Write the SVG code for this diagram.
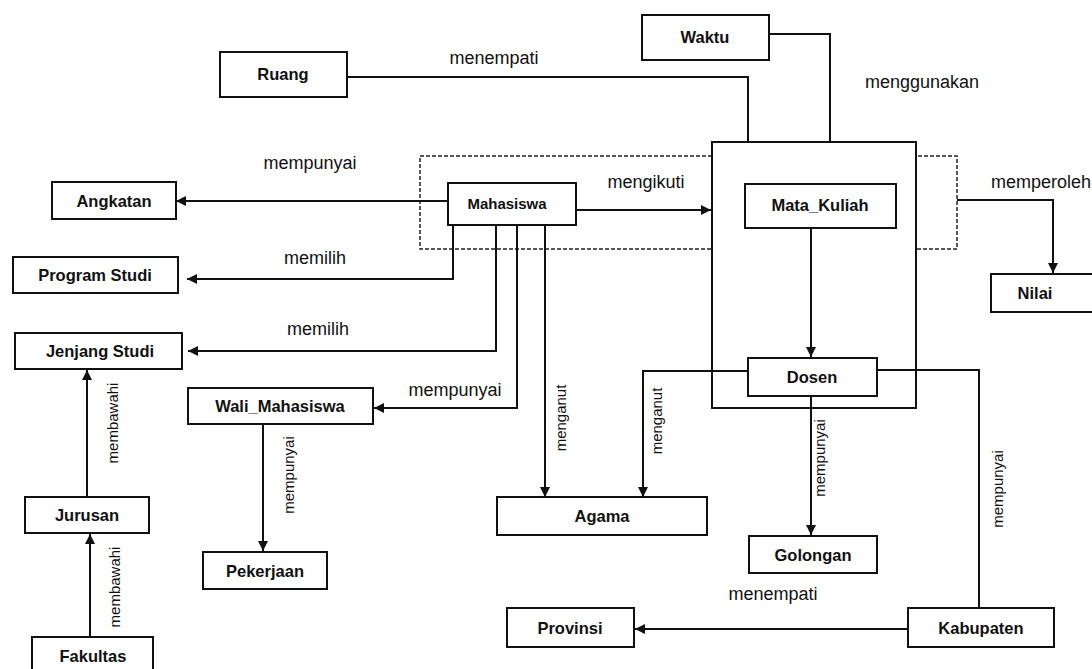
<svg xmlns="http://www.w3.org/2000/svg" width="1092" height="669" viewBox="0 0 1092 669">
<defs>
<marker id="arr" viewBox="0 0 10 10" refX="10" refY="5" markerWidth="10" markerHeight="10" markerUnits="userSpaceOnUse" orient="auto">
<path d="M0,0 L10,5 L0,10 z" fill="#111"/>
</marker>
<style>
.box{fill:#fff;stroke:#111;stroke-width:2}
.nt{font-family:"Liberation Sans",Arial,sans-serif;font-size:16.5px;font-weight:bold;fill:#111;text-anchor:middle;dominant-baseline:central}
.nb{font-size:15px}
.lb{font-family:"Liberation Sans",Arial,sans-serif;font-size:18px;fill:#111;text-anchor:middle}
.lr{font-family:"Liberation Sans",Arial,sans-serif;font-size:15px;fill:#111;text-anchor:middle}
.c{fill:none;stroke:#111;stroke-width:2}
.ca{fill:none;stroke:#111;stroke-width:2;marker-end:url(#arr)}
.dot{fill:none;stroke:#222;stroke-width:1.5;stroke-dasharray:4 2}
</style>
</defs>
<rect width="1092" height="669" fill="#fff"/>

<g id="aggregation">
<rect class="dot" x="420" y="156" width="537" height="93"/>
</g>
<g id="container">
<rect class="box" x="712" y="142" width="204" height="266"/>
</g>

<g id="connectors">
<polyline class="c" points="347,77 748,77 748,142"/>
<polyline class="c" points="769,34 830,34 830,142"/>
<polyline class="ca" points="448,201 176,201"/>
<polyline class="ca" points="576,210 711,210"/>
<polyline class="ca" points="453,225 453,279 187,279"/>
<polyline class="ca" points="496,225 496,351 188,351"/>
<polyline class="ca" points="517,225 517,408 374,408"/>
<polyline class="ca" points="545,225 545,497"/>
<polyline class="ca" points="811,228 811,357"/>
<polyline class="ca" points="748,371 643,371 643,497"/>
<polyline class="ca" points="811,396 811,535"/>
<polyline class="c" points="877,370 979,370 979,608"/>
<polyline class="ca" points="908,629 635,629"/>
<polyline class="ca" points="263,424 263,551"/>
<polyline class="ca" points="87,497 87,370"/>
<polyline class="ca" points="90,637 90,534"/>
<polyline class="ca" points="957,200 1053,200 1053,273"/>
</g>

<g id="labels">
<text class="lb" x="494" y="64">menempati</text>
<text class="lb" x="922" y="88">menggunakan</text>
<text class="lb" x="310" y="169">mempunyai</text>
<text class="lb" x="646" y="188">mengikuti</text>
<text class="lb" x="991" y="188" style="text-anchor:start">memperoleh</text>
<text class="lb" x="315" y="264">memilih</text>
<text class="lb" x="318" y="335">memilih</text>
<text class="lb" x="455" y="396">mempunyai</text>
<text class="lb" x="773" y="600">menempati</text>
<text class="lr" transform="translate(566,418) rotate(-90)">menganut</text>
<text class="lr" transform="translate(662,421) rotate(-90)">menganut</text>
<text class="lr" transform="translate(118,423) rotate(-90)">membawahi</text>
<text class="lr" transform="translate(120,587) rotate(-90)">membawahi</text>
<text class="lr" transform="translate(294,475) rotate(-90)">mempunyai</text>
<text class="lr" transform="translate(825,458) rotate(-90)">mempunyai</text>
<text class="lr" transform="translate(1003,489) rotate(-90)">mempunyai</text>
</g>

<g id="waktu"><rect class="box" x="642" y="15" width="127" height="45"/><text class="nt" x="705" y="37">Waktu</text></g>
<g id="ruang"><rect class="box" x="220" y="52" width="127" height="45"/><text class="nt" x="283" y="74">Ruang</text></g>
<g id="angkatan"><rect class="box" x="52" y="182" width="124" height="37"/><text class="nt" x="114" y="201">Angkatan</text></g>
<g id="mahasiswa"><rect class="box" x="448" y="183" width="128" height="42"/><text class="nt nb" x="507" y="203">Mahasiswa</text></g>
<g id="mata_kuliah"><rect class="box" x="745" y="184" width="151" height="44"/><text class="nt" x="820" y="205">Mata_Kuliah</text></g>
<g id="nilai"><rect class="box" x="991" y="274" width="110" height="38"/><text class="nt" x="1035" y="293">Nilai</text></g>
<g id="program_studi"><rect class="box" x="13" y="257" width="165" height="36"/><text class="nt" x="95" y="275">Program Studi</text></g>
<g id="jenjang_studi"><rect class="box" x="15" y="333" width="167" height="36"/><text class="nt" x="100" y="351">Jenjang Studi</text></g>
<g id="wali_mahasiswa"><rect class="box" x="188" y="388" width="185" height="36"/><text class="nt" x="280" y="406">Wali_Mahasiswa</text></g>
<g id="dosen"><rect class="box" x="748" y="358" width="129" height="38"/><text class="nt" x="812" y="377">Dosen</text></g>
<g id="jurusan"><rect class="box" x="25" y="497" width="124" height="36"/><text class="nt" x="87" y="515">Jurusan</text></g>
<g id="agama"><rect class="box" x="497" y="497" width="210" height="38"/><text class="nt" x="602" y="516">Agama</text></g>
<g id="golongan"><rect class="box" x="749" y="536" width="128" height="37"/><text class="nt" x="813" y="555">Golongan</text></g>
<g id="pekerjaan"><rect class="box" x="203" y="552" width="124" height="37"/><text class="nt" x="265" y="571">Pekerjaan</text></g>
<g id="provinsi"><rect class="box" x="507" y="608" width="127" height="39"/><text class="nt" x="570" y="628">Provinsi</text></g>
<g id="kabupaten"><rect class="box" x="908" y="608" width="146" height="39"/><text class="nt" x="981" y="628">Kabupaten</text></g>
<g id="fakultas"><rect class="box" x="32" y="637" width="121" height="45"/><text class="nt" x="93" y="656">Fakultas</text></g>
</svg>
